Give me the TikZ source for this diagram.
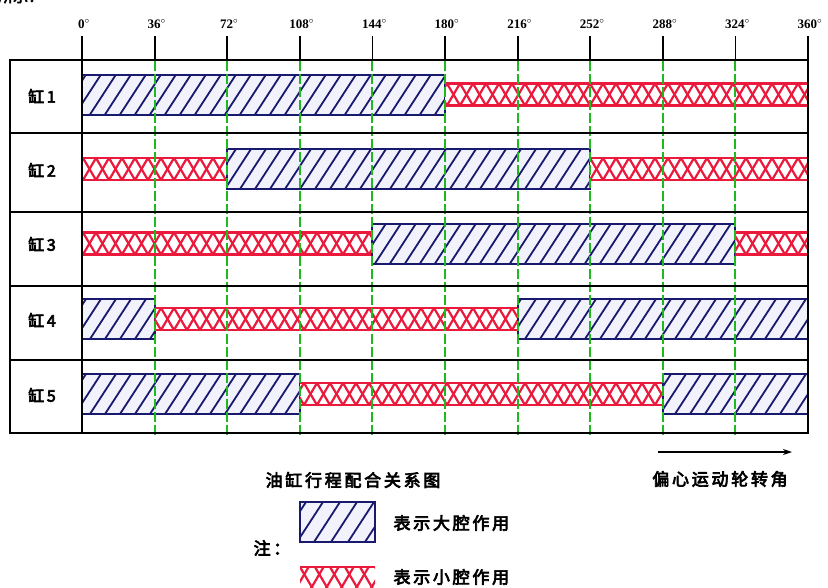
\documentclass[tikz,border=0pt]{standalone}
\usepackage{fontspec}
\usetikzlibrary{arrows.meta}
\setmainfont{Liberation Serif}
\newfontfamily\cjk[FakeBold=4]{Noto Sans CJK SC}
\newfontfamily\cjkw[FakeBold=4,LetterSpace=16]{Noto Sans CJK SC}
\definecolor{navy}{RGB}{25,25,110}
\definecolor{hred}{RGB}{235,25,60}
\definecolor{gline}{RGB}{30,185,30}
\definecolor{bluebg}{RGB}{242,242,252}
\tikzset{
  tbl/.style={line width=2pt, black},
  tickline/.style={line width=1.8pt, black},
  gdash/.style={gline, line width=1.6pt, dash pattern=on 10pt off 3pt},
  bhatch/.style={navy, line width=1.8pt},
  bedge/.style={navy, line width=2pt},
  rhatch/.style={hred, line width=2.2pt},
  redge/.style={hred, line width=2.8pt},
  deg/.style={font=\bfseries\fontsize{13}{13}\selectfont},
  rowlab/.style={font=\cjk\fontsize{16}{16}\selectfont},
  captext/.style={font=\cjkw\fontsize{17}{17}\selectfont}
}
\newcommand\BX[1]{82+2.0167*#1}
\newcommand\bluebox[5]{%
  \begin{scope}
    \clip (#1,#2) rectangle (#3,#4);
    \fill[bluebg] (#1,#2) rectangle (#3,#4);
    \foreach \k in {0,#5,...,880} \draw[bhatch] (\k-60,#4) -- ({\k-60+0.65*(#4-(#2))},#2);
  \end{scope}
  \draw[bedge] (#1,#2) rectangle (#3,#4);
}
\newcommand\redbox[5]{%
  \begin{scope}
    \clip (#1,#2) rectangle (#3,#4);
    \fill[white] (#1,#2) rectangle (#3,#4);
    \foreach \k in {0,#5,...,880} {
      \draw[rhatch] (\k-60,#4) -- ({\k-60+0.59*(#4-(#2))},#2);
      \draw[rhatch] (\k-60,#2) -- ({\k-60+0.59*(#4-(#2))},#4);
    }
  \end{scope}
  \draw[redge] (#1,#2) -- (#3,#2) (#1,#4) -- (#3,#4);
}
\newcommand\Bbar[3]{\bluebox{\BX{#1}}{#3-20}{\BX{#2}}{#3+20}{15}}
\newcommand\Rbar[3]{\redbox{\BX{#1}}{#3-11}{\BX{#2}}{#3+11}{13}}
\begin{document}
\begin{tikzpicture}[x=1pt,y=-1pt]
\useasboundingbox (0,0) rectangle (828,587);
\fill[white] (0,0) rectangle (828,587);

% clipped heading fragment
\node[anchor=base west, inner sep=0pt, font=\cjk\fontsize{15}{15}\selectfont] (head) at (-2,2) {所示：};

% bars
\Bbar{0}{180}{94.5}   \Rbar{180}{360}{94.5}
\Rbar{0}{72}{169}     \Bbar{72}{252}{169}    \Rbar{252}{360}{169}
\Rbar{0}{144}{243.5}  \Bbar{144}{324}{243.5} \Rbar{324}{360}{243.5}
\Bbar{0}{36}{319}     \Rbar{36}{216}{319}    \Bbar{216}{360}{319}
\Bbar{0}{108}{394}    \Rbar{108}{288}{394}   \Bbar{288}{360}{394}

% green dashed lines
\foreach \d in {36,72,...,324}
  \draw[gdash] ({round(\BX{\d})},61) -- ({round(\BX{\d})},438);

% ticks and degree labels
\foreach \d/\n in {0/d0,36/d36,72/d72,108/d108,144/d144,180/d180,216/d216,252/d252,288/d288,324/d324,360/d360} {
  \draw[tickline] ({\BX{\d}},36) -- ({\BX{\d}},60);
  \node[deg] (\n) at ({\BX{\d}+2},24) {\d$^{\circ}$};
}

% table
\draw[tbl] (10,60) rectangle (808,433);
\draw[tbl] (82,60) -- (82,433);
\foreach \y in {133,212,286,360} \draw[tbl] (10,\y) -- (808,\y);

% row labels
\node[rowlab] (r1) at (42,96) {缸\,1};
\node[rowlab] (r2) at (42,170) {缸\,2};
\node[rowlab] (r3) at (42,244) {缸\,3};
\node[rowlab] (r4) at (42,320) {缸\,4};
\node[rowlab] (r5) at (42,395) {缸\,5};

% bottom captions
\coordinate (arrA) at (658,452);
\coordinate (arrB) at (792,452);
\draw[line width=2pt, -{Stealth[length=9pt,width=6pt]}] (arrA) -- (arrB);
\node[captext] (title) at (353,480) {油缸行程配合关系图};
\node[captext] (angle) at (720,479) {偏心运动轮转角};

% legend
\bluebox{300}{502}{375}{542}{17}
\redbox{300}{567}{375}{607}{15}
\node[captext, anchor=west] (lg1) at (390,523) {表示大腔作用};
\node[captext, anchor=west] (lg2) at (390,577) {表示小腔作用};
\node[captext] (note) at (272,548) {注：};
\end{tikzpicture}
\end{document}
